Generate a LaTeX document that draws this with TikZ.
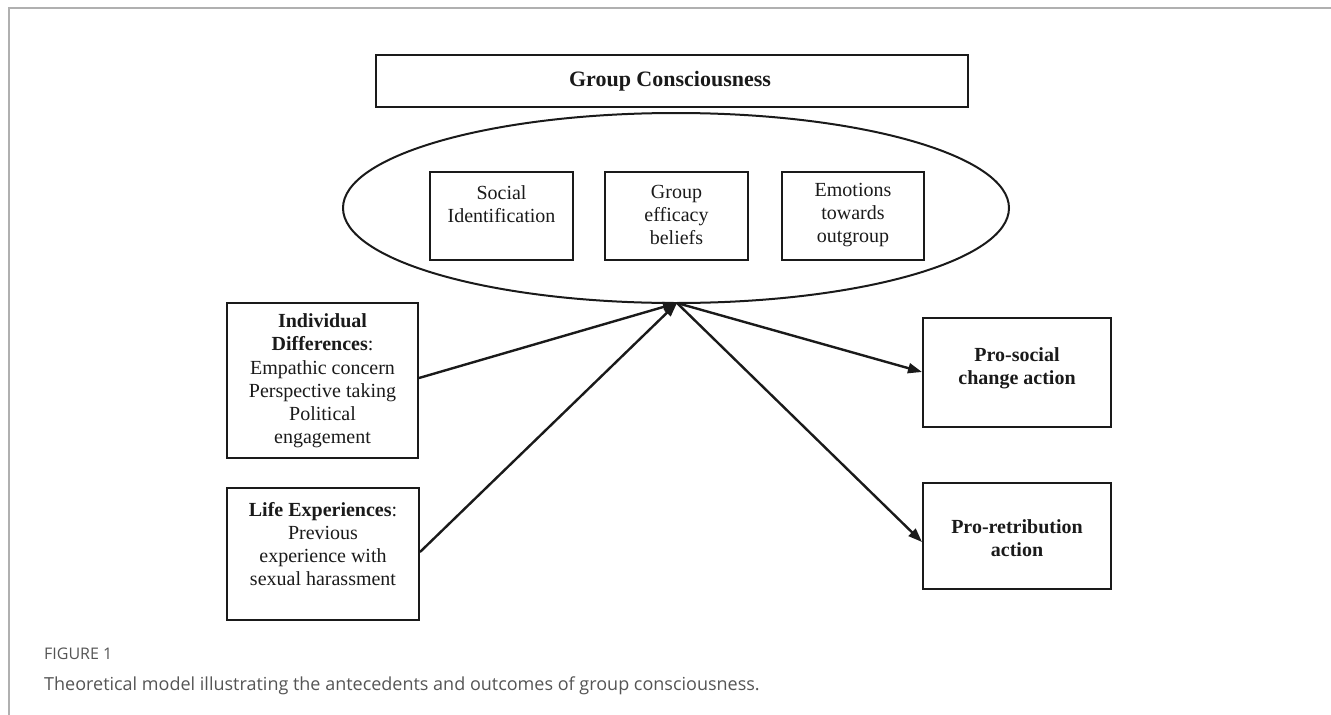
\documentclass[tikz,border=0pt]{standalone}
\usepackage{fontspec}
\setmainfont{Liberation Serif}
\newfontfamily\capfont{Open Sans}
\usetikzlibrary{arrows.meta,shapes.geometric}
\definecolor{ink}{HTML}{1A1A1A}
\definecolor{framegray}{HTML}{B0B0B0}
\definecolor{capgray}{HTML}{555555}
\tikzset{
  boxnode/.style={draw=ink, line width=2pt, rectangle, inner sep=0pt},
  txtnode/.style={text=ink, align=center, inner sep=0pt, font=\fontsize{20}{23.2}\selectfont},
  conn/.style={draw=ink, line width=2.4pt, -{Triangle[length=14pt,width=10pt]}},
}
\begin{document}
\begin{tikzpicture}[x=1pt,y=-1pt]
\useasboundingbox (0,0) rectangle (1331,715);
% page frame
\draw[framegray, line width=2pt] (9,715) -- (9,8) -- (1331,8);

% Group Consciousness
\node[boxnode, minimum width=592pt, minimum height=52pt] (gc) at (672,81) {};
\node[txtnode, font=\fontsize{22}{25}\selectfont\bfseries] (gct) at (670,81) {Group Consciousness};

% ellipse
\node[ellipse, draw=ink, line width=2pt, minimum width=666pt, minimum height=190pt, inner sep=0pt] (ell) at (676,208) {};
\coordinate (apex) at (677,303);

% inner boxes
\node[boxnode, minimum width=143pt, minimum height=88pt] (si) at (501.5,216) {};
\node[txtnode] (sit) at (501.5,204) {Social\\Identification};
\node[boxnode, minimum width=143pt, minimum height=88pt] (ge) at (676.5,216) {};
\node[txtnode] (get) at (676.5,215) {Group\\efficacy\\beliefs};
\node[boxnode, minimum width=142pt, minimum height=88pt] (em) at (853,216) {};
\node[txtnode] (emt) at (853,215) {Emotions\\towards\\outgroup};

% left boxes
\node[boxnode, minimum width=191pt, minimum height=155pt] (id) at (322.5,380.5) {};
\node[txtnode] (idt) at (322.5,381) {\textbf{Individual}\\\textbf{Differences}:\\Empathic concern\\Perspective taking\\Political\\engagement};
\node[boxnode, minimum width=192pt, minimum height=132pt] (le) at (323,554) {};
\node[txtnode] (let) at (323,544) {\textbf{Life Experiences}:\\Previous\\experience with\\sexual harassment};

% right boxes
\node[boxnode, minimum width=188pt, minimum height=109pt] (ps) at (1017,372.5) {};
\node[txtnode, font=\fontsize{20}{23.2}\selectfont\bfseries] (pst) at (1017,368.5) {Pro-social\\change action};
\node[boxnode, minimum width=188pt, minimum height=106pt] (pr) at (1017,536) {};
\node[txtnode, font=\fontsize{20}{23.2}\selectfont\bfseries] (prt) at (1017,538.5) {Pro-retribution\\action};

% connectors
\draw[conn] (id.east |- 0,378) -- (apex);
\draw[conn] (le.east |- 0,552) -- (apex);
\draw[conn] (apex) -- (ps.west |- 0,372);
\draw[conn] (apex) -- (pr.west |- 0,542);

% caption
\node[anchor=base west, inner sep=0pt, text=capgray, font=\capfont\fontsize{16}{18}\selectfont] (figlabel) at (44,659) {FIGURE 1};
\node[anchor=base west, inner sep=0pt, text=capgray, font=\capfont\fontsize{18}{21}\selectfont] (caption) at (44,690) {Theoretical model illustrating the antecedents and outcomes of group consciousness.};
\end{tikzpicture}
\end{document}
